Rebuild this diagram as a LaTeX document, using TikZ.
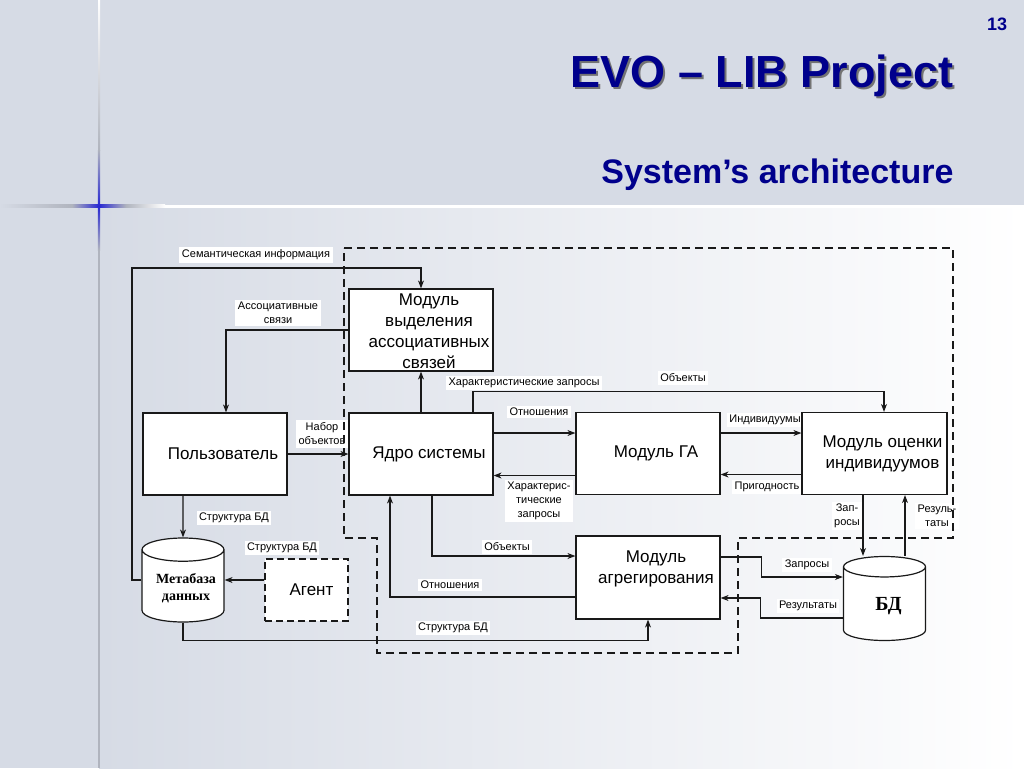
\documentclass[tikz,border=0pt]{standalone}
\usepackage{fontspec}
\setmainfont{Liberation Sans}
\newfontfamily\serifbd{Liberation Serif}
\usetikzlibrary{positioning,shapes.geometric,arrows.meta}
\tikzset{>={Stealth[length=8pt,width=6pt]}}
\definecolor{bgtop}{RGB}{214,219,229}
\definecolor{linegray}{RGB}{176,180,190}
\definecolor{crossblue}{RGB}{40,40,210}
\definecolor{titleblue}{RGB}{0,0,140}
\definecolor{ink}{RGB}{25,25,25}

\begin{document}
\begin{tikzpicture}[x=1pt,y=-1pt,
	box/.style = {% modules
		draw=ink, fill=white, line width=1.2pt, minimum width=144pt,
		minimum height=82pt,},
	txt/.style = {% module captions, set a little right of centre
		xshift=8pt, align=center, inner sep=0pt,
		font=\fontsize{17}{21}\selectfont,},
	cyl/.style = {% data bases
		cylinder, shape border rotate=90, aspect=0.5, draw=ink,
		fill=white, line width=1.2pt, minimum width=82pt,
		minimum height=84pt, align=center, anchor=shape center,},
	lbl/.style = {% connector labels
		fill=white, inner sep=2.5pt, align=center,
		font=\fontsize{11}{14}\selectfont,},
	link/.style = {->, draw=ink, line width=1.1pt},
	zone/.style = {draw=ink, line width=1.2pt, dash pattern=on 8pt off 5pt},
	]
	\useasboundingbox (0,0) rectangle (1024,768);

	% slide background
	\fill[bgtop] (0,0) rectangle (1024,206);
	\fill[bgtop] (0,206) rectangle (99,768);
	\shade[left color=bgtop, right color=white] (99,206) rectangle (1024,768);
	\fill[white] (160,204.5) rectangle (1024,207.5);
	\shade[left color=bgtop, right color=linegray] (0,204.5) rectangle (72,207.5);
	\shade[left color=linegray, right color=white] (126,204.5) rectangle (165,207.5);
	\shade[left color=linegray, right color=crossblue] (72,204.8) rectangle (99,207.2);
	\shade[left color=crossblue, right color=linegray] (99,204.8) rectangle (126,207.2);
	\shade[top color=white, bottom color=linegray] (98,0) rectangle (100,150);
	\shade[top color=linegray, bottom color=crossblue] (97.8,150) rectangle (100.2,206);
	\shade[top color=crossblue, bottom color=linegray] (97.8,206) rectangle (100.2,250);
	\fill[linegray] (98,250) rectangle (100,768);

	% titles
	\node[anchor=base east, text=black!55, font=\bfseries\fontsize{45}{50}\selectfont]
		(titleshadow) at (959,89) {EVO – LIB Project};
	\node[anchor=base east, text=titleblue, font=\bfseries\fontsize{45}{50}\selectfont]
		(title) at (957,87) {EVO – LIB Project};
	\node[anchor=base east, text=titleblue, font=\bfseries\fontsize{34}{40}\selectfont]
		(subtitle) at (957,183) {System’s architecture};
	\node[text=titleblue, font=\bfseries\fontsize{18}{20}\selectfont]
		(pagenum) at (997,24) {13};

	% labels
	\node[lbl] (lsem) at (256,255) {Семантическая информация};
	\node[lbl] (lassoc) at (278,313) {Ассоциативные\\связи};
	\node[lbl] (lset) at (322,434) {Набор\\объектов};
	\node[lbl] (lcharq) at (524,383) {Характеристические запросы};
	\node[lbl] (lobjtop) at (683,378) {Объекты};
	\node[lbl] (lreltop) at (539,412) {Отношения};
	\node[lbl] (lcharb) at (539,501) {Характерис-\\тические\\запросы};
	\node[lbl] (lind) at (765,420) {Индивидуумы};
	\node[lbl] (lfit) at (767,487) {Пригодность};
	\node[lbl] (lreq) at (847,516) {Зап-\\росы};
	\node[lbl] (lres) at (937,516) {Резуль-\\таты};
	\node[lbl] (lstruct) at (234,518) {Структура БД};
	\node[lbl] (lstructag) at (282,548) {Структура БД};
	\node[lbl] (lobjbot) at (507,547) {Объекты};
	\node[lbl] (lrelbot) at (450,585) {Отношения};
	\node[lbl] (lstructbot) at (453,628) {Структура БД};
	\node[lbl] (lreqdb) at (807,565) {Запросы};
	\node[lbl] (lresdb) at (808,606) {Результаты};

	% modules
	\node[box, label={[txt, yshift=-1pt]center:Модуль\\выделения\\ассоциативных\\связей}]
		(msel) at (421,330) {};
	\node[box, label={[txt]center:Пользователь}] (user) at (215,454) {};
	\node[box, label={[txt]center:Ядро системы}] (core) at (421,454) {};
	\node[box, label={[txt]center:Модуль ГА}] (ga) at (648,453.5) {};
	\node[box, minimum width=145pt, label={[txt]center:Модуль оценки\\индивидуумов}]
		(eval) at (874.5,453.5) {};
	\node[box, minimum height=83pt, label={[txt, yshift=9pt]center:Модуль\\агрегирования}]
		(aggr) at (648,577.5) {};
	\node[box, minimum width=83pt, minimum height=62pt, dash pattern=on 7pt off 4pt,
		label={[txt, xshift=-3pt]center:Агент}] (agent) at (306.5,590) {};
	\node[cyl, aspect=0.32, font=\serifbd\bfseries\fontsize{14}{17}\selectfont] (meta) at (183,580) {\hspace*{6pt}Метабаза\\\hspace*{6pt}данных};
	\node[cyl, font=\serifbd\bfseries\fontsize{20}{24}\selectfont] (db) at (884.5,598.5) {\hspace*{8pt}БД};
	\coordinate (semL) at (132,268);
	\coordinate (dbq) at ([yshift=21.5pt]db.shape center);
	\coordinate (dbr) at ([yshift=-19.5pt]db.shape center);

	% connectors
	\draw[link] (meta.shape center -| meta.west) -| (semL) -| (msel.north);
	\draw[link] (msel.west) -| ([xshift=11pt]user.north);
	\draw[link] (user) -- (core);
	\draw[link] (core) -- (msel);
	\draw[link] ([xshift=52pt]core.north) -- ++(0,-21) -| ([xshift=9.5pt]eval.north);
	\draw[link] ([yshift=21pt]core.east) -- ([yshift=21pt]core.east -| ga.west);
	\draw[link] ([yshift=-22pt]ga.west) -- ([yshift=-22pt]ga.west -| core.east);
	\draw[link] ([yshift=20.5pt]ga.east) -- ([yshift=20.5pt]ga.east -| eval.west);
	\draw[link] ([yshift=-21pt]eval.west) -- ([yshift=-21pt]eval.west -| ga.east);
	\draw[link] ([xshift=-11.5pt]eval.south) -- ([xshift=-11.5pt]eval.south |- db.north);
	\draw[link] ([xshift=20.5pt]db.north) -- ([xshift=20.5pt]db.north |- eval.south);
	\draw[link] ([xshift=11pt]core.south) |- ([yshift=21.5pt]aggr.west);
	\draw[link] ([yshift=-19.5pt]aggr.west) -| ([xshift=-31pt]core.south);
	\draw[link] ([yshift=20.5pt]aggr.east) -- ++(41,0) |- (dbq -| db.west);
	\draw[link] (dbr -| db.west) -- ++(-82,0) |- ([yshift=-20.5pt]aggr.east);
	\draw[link] ([xshift=-32pt]user.south) -- (meta.north);
	\draw[link] (meta.shape center -| agent.west) -- (meta.shape center -| meta.east);
	\draw[link] (meta.south) -- ++(0,18) -| (aggr.south);

	% system boundary
	\draw[zone] (344,248) -- (953,248) -- (953,538) -- (738,538) -- (738,653)
		-- (377,653) -- (377,538) -- (344,538) -- cycle;

\end{tikzpicture}
\end{document}
